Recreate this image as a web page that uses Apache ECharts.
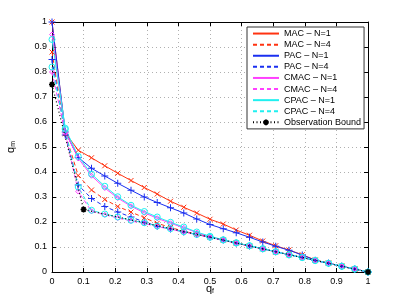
<!DOCTYPE html>
<html>
<head>
<meta charset="utf-8">
<script src="https://cdn.jsdelivr.net/npm/echarts@6/dist/echarts.min.js"></script>
<style>html,body{margin:0;padding:0;background:#fff;}#c{width:407px;height:306px;}</style>
</head>
<body>
<div id="c"></div>
<script>
// q_f sample positions
const qf = [0, 0.042, 0.083, 0.125, 0.167, 0.208, 0.25, 0.292, 0.333, 0.375, 0.417, 0.458, 0.5, 0.542, 0.583, 0.625, 0.667, 0.708, 0.75, 0.792, 0.833, 0.875, 0.917, 0.958, 1];
const macN1  = [1.0, 0.557, 0.487, 0.457, 0.425, 0.395, 0.366, 0.338, 0.312, 0.283, 0.259, 0.236, 0.211, 0.192, 0.168, 0.147, 0.124, 0.105, 0.088, 0.069, 0.048, 0.035, 0.023, 0.011, 0];
const macN4  = [0.88, 0.553, 0.386, 0.328, 0.29, 0.262, 0.24, 0.217, 0.195, 0.178, 0.163, 0.151, 0.14, 0.128, 0.116, 0.104, 0.093, 0.081, 0.069, 0.058, 0.046, 0.035, 0.023, 0.012, 0];
const pacN1  = [1.0, 0.56, 0.458, 0.415, 0.384, 0.355, 0.327, 0.3, 0.278, 0.257, 0.236, 0.212, 0.19, 0.173, 0.157, 0.139, 0.12, 0.103, 0.087, 0.068, 0.047, 0.035, 0.023, 0.011, 0];
const pacN4  = [0.85, 0.548, 0.348, 0.294, 0.262, 0.24, 0.22, 0.2, 0.183, 0.172, 0.16, 0.15, 0.139, 0.128, 0.116, 0.104, 0.093, 0.081, 0.069, 0.058, 0.046, 0.035, 0.023, 0.012, 0];
const cmacN1 = [0.95, 0.56, 0.455, 0.385, 0.336, 0.296, 0.263, 0.237, 0.215, 0.195, 0.177, 0.158, 0.141, 0.127, 0.116, 0.104, 0.093, 0.081, 0.069, 0.058, 0.046, 0.035, 0.023, 0.012, 0];
const cmacN4 = [0.8, 0.555, 0.322, 0.243, 0.229, 0.216, 0.204, 0.194, 0.182, 0.171, 0.16, 0.149, 0.138, 0.127, 0.115, 0.104, 0.092, 0.081, 0.069, 0.058, 0.046, 0.035, 0.023, 0.012, 0];
const cpacN1 = [0.93, 0.575, 0.463, 0.392, 0.343, 0.301, 0.267, 0.242, 0.22, 0.199, 0.18, 0.16, 0.143, 0.129, 0.117, 0.105, 0.093, 0.081, 0.069, 0.058, 0.046, 0.035, 0.023, 0.012, 0];
const cpacN4 = [0.82, 0.57, 0.34, 0.247, 0.232, 0.22, 0.207, 0.197, 0.184, 0.173, 0.161, 0.15, 0.139, 0.128, 0.116, 0.105, 0.093, 0.081, 0.069, 0.058, 0.046, 0.035, 0.023, 0.012, 0];
const boundQf = [0, 0.1, 1];
const boundQm = [0.75, 0.25, 0];
const names = ['MAC – N=1', 'MAC – N=4', 'PAC – N=1', 'PAC – N=4', 'CMAC – N=1', 'CMAC – N=4', 'CPAC – N=1', 'CPAC – N=4', 'Observation Bound'];

const RED = '#ff3311', BLUE = '#1a2ff0', MAG = '#ff40ff', CYAN = '#20f0f0';
const X_SYM = 'path://M0,0L1,1M1,0L0,1';
const P_SYM = 'path://M0.5,0L0.5,1M0,0.5L1,0.5';
const STAR = 'path://M0.5,0L0.5,1M0,0.5L1,0.5M0.15,0.15L0.85,0.85M0.85,0.15L0.15,0.85';
const CLEAR = 'rgba(0,0,0,0)';

function pts(ys){ return qf.map((x,i)=>[x, ys[i]]); }
function mk(name, ys, color, dashed, sym, size){
  return {
    name: name, type: 'line', data: pts(ys),
    symbol: sym, symbolSize: size, showAllSymbol: true,
    lineStyle: {color: color, width: 1, type: dashed ? [4, 3] : 'solid'},
    itemStyle: {color: CLEAR, borderColor: color, borderWidth: 1},
    emphasis: {disabled: true}, silent: true, animation: false, z: 3
  };
}

const series = [
  mk(names[0], macN1, RED, false, X_SYM, 5),
  mk(names[1], macN4, RED, true, X_SYM, 5),
  mk(names[2], pacN1, BLUE, false, P_SYM, 7),
  mk(names[3], pacN4, BLUE, true, P_SYM, 7),
  mk(names[4], cmacN1, MAG, false, 'diamond', 5),
  mk(names[5], cmacN4, MAG, true, 'diamond', 5),
  mk(names[6], cpacN1, CYAN, false, 'circle', 6),
  mk(names[7], cpacN4, CYAN, true, 'circle', 6),
  {
    name: names[8], type: 'line', data: boundQf.map((x,i)=>[x, boundQm[i]]),
    symbol: STAR, symbolSize: 6,
    lineStyle: {color: '#000', width: 1.2, type: [1, 2.5]},
    itemStyle: {color: CLEAR, borderColor: '#000', borderWidth: 1.6},
    emphasis: {disabled: true}, silent: true, animation: false, z: 4
  }
];

const font = 'Liberation Sans, Arial, Helvetica, sans-serif';
const axisCommon = {
  type: 'value', min: 0, max: 1, interval: 0.1,
  axisLine: {show: true, onZero: false, lineStyle: {color: '#000', width: 1}},
  axisTick: {show: true, inside: true, length: 4, lineStyle: {color: '#000'}},
};
const nameStyle = {color: '#000', fontSize: 11, fontFamily: font,
  rich: {s: {fontSize: 7, verticalAlign: 'bottom', padding: [6, 0, 0, 0], fontFamily: font}}};

const chart = echarts.init(document.getElementById('c'), null, {renderer: 'canvas'});
chart.setOption({
  animation: false,
  backgroundColor: '#fff',
  textStyle: {fontFamily: font},
  grid: {left: 52, right: 39, top: 22, bottom: 34, containLabel: false, outerBoundsMode: 'none'},
  xAxis: [
    Object.assign({}, axisCommon, {
      position: 'bottom',
      name: 'q{s|f}', nameLocation: 'middle', nameGap: 10, nameMoveOverlap: false,
      nameTextStyle: nameStyle,
      axisLabel: {color: '#000', fontSize: 9, margin: 5, fontFamily: font},
      splitLine: {show: true, lineStyle: {color: '#b0b0b0', type: [1, 3], width: 1}}
    }),
    Object.assign({}, axisCommon, {
      position: 'top', axisLabel: {show: false}, splitLine: {show: false}
    })
  ],
  yAxis: [
    Object.assign({}, axisCommon, {
      position: 'left',
      name: 'q{s|m}', nameLocation: 'middle', nameGap: 35, nameRotate: 90, nameMoveOverlap: false,
      nameTextStyle: nameStyle,
      axisLabel: {color: '#000', fontSize: 9, margin: 5, fontFamily: font},
      splitLine: {show: true, lineStyle: {color: '#b0b0b0', type: [1, 3], width: 1}}
    }),
    Object.assign({}, axisCommon, {
      position: 'right', axisLabel: {show: false}, splitLine: {show: false}
    })
  ],
  legend: {
    show: true, orient: 'vertical', left: 247, top: 27,
    backgroundColor: '#fff', borderColor: '#333', borderWidth: 1,
    padding: [1, 3, 1, 5],
    itemWidth: 26, itemHeight: 7, itemGap: 0,
    selectedMode: false,
    textStyle: {color: '#000', fontSize: 9, fontFamily: font, lineHeight: 11.1},
    data: names.map((n, i) => i < 8 ? {name: n, itemStyle: {opacity: 0}} : {name: n})
  },
  series: series
});
</script>
</body>
</html>
